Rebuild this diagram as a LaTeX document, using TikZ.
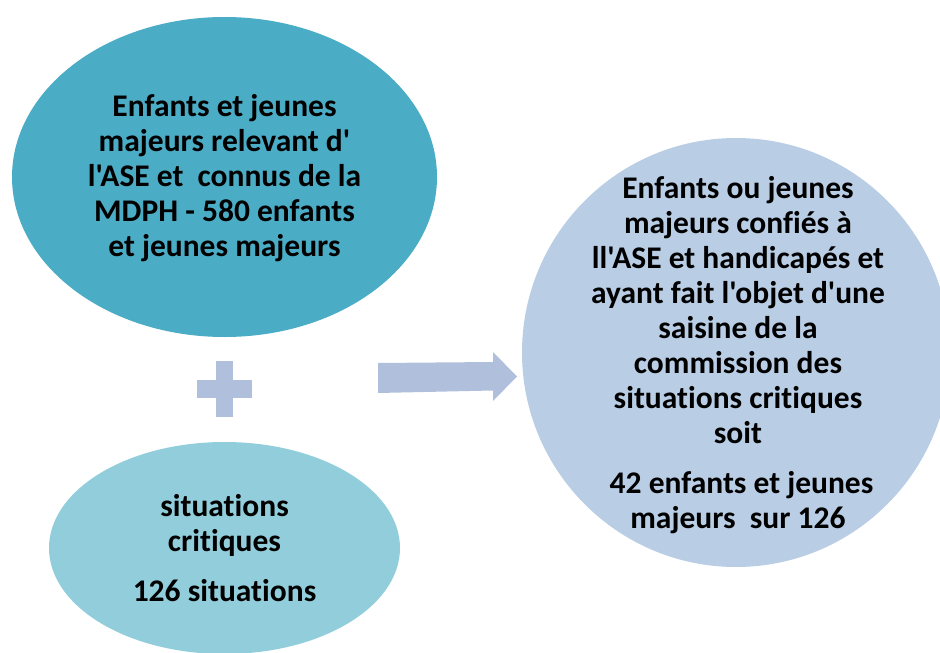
\documentclass[tikz,border=0pt]{standalone}
\usepackage{fontspec}
\newfontfamily\cf{Carlito}[BoldFont={Carlito Bold},Ligatures=NoCommon]
\definecolor{tealA}{HTML}{4BACC6}
\definecolor{tealB}{HTML}{92CDDC}
\definecolor{blueC}{HTML}{B9CDE5}
\definecolor{greyB}{HTML}{B0C0DC}
\usetikzlibrary{shapes.geometric}
\tikzset{
  bubble/.style={ellipse, inner sep=0pt, draw=none},
  words/.style={inner sep=0pt, align=center, text=black,
    font=\cf\bfseries\fontsize{31.5}{35}\selectfont},
}
\begin{document}
\begin{tikzpicture}[x=1pt,y=-1pt]
\useasboundingbox (0,0) rectangle (940,653);
\clip (0,0) rectangle (940,653);
\node[bubble, fill=tealA, minimum width=425pt, minimum height=320pt] (top) at (224.5,177) {};
\node[bubble, fill=tealB, minimum width=351pt, minimum height=212pt] (bot) at (224.5,548) {};
\node[bubble, fill=blueC, minimum width=428pt, minimum height=429pt] (res) at (736,352.5) {};
\node[words] (toptext) at ([yshift=-1.5pt]top.center)
  {Enfants et jeunes\\majeurs relevant d'\\l'ASE et\ \ connus de la\\MDPH - 580 enfants\\et jeunes majeurs};
\node[words] (bottext) at ([yshift=-0.5pt]bot.center)
  {situations\\critiques\\[15pt]126 situations};
\node[words] (restext) at ([xshift=2pt,yshift=-2.5pt]res.center)
  {Enfants ou jeunes\\majeurs confiés à\\ll'ASE et handicapés et\\ayant fait l'objet d'une\\saisine de la\\commission des\\situations critiques\\soit\\[15pt]\ 42 enfants et jeunes\\majeurs\ \ sur 126};
\fill[greyB] (216,361) rectangle (233,417);
\fill[greyB] (197,380) rectangle (252,398);
\fill[greyB] (378,363) -- (493,362) -- (493,352) -- (517,376.5) -- (493,401) -- (493,390.5) -- (378,393) -- cycle;
\end{tikzpicture}
\end{document}
